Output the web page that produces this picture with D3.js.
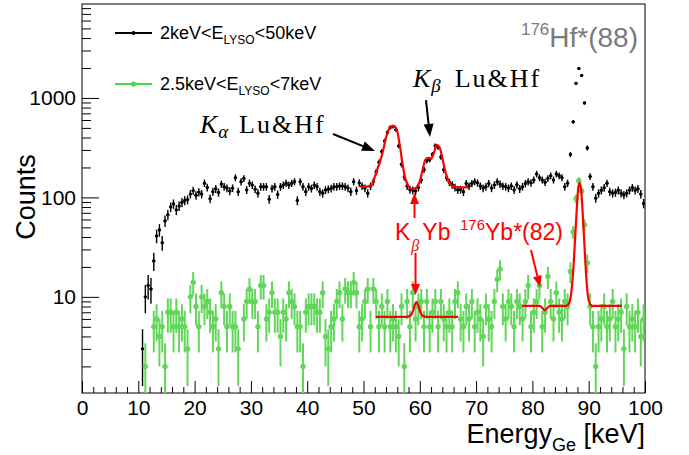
<!DOCTYPE html>
<html>
<head>
<meta charset="utf-8">
<script src="https://cdn.jsdelivr.net/npm/d3@7"></script>
<style>
  html, body { margin: 0; padding: 0; background: #ffffff; }
  svg { display: block; }
</style>
</head>
<body>
<svg id="chart" width="689" height="455"></svg>
<script>
// Ge energy spectrum in 0.5 keV bins, two LYSO energy cuts
const binWidth = 0.5;

// 2 keV < E_LYSO < 50 keV, first bin centre at 10.75 keV
const wideCutStart = 10.75;
const wideCutCounts = [
  3, 10, 13, 12, 23, 41, 47, 35, 58, 67,
  80, 86, 75, 82, 89, 93, 95, 108, 117, 105,
  113, 108, 139, 126, 97, 114, 122, 112, 136, 128,
  124, 116, 124, 158, 114, 144, 155, 119, 139, 133,
  121, 110, 128, 128, 128, 96, 123, 128, 107, 128,
  133, 139, 133, 139, 144, 93, 144, 128, 114, 128,
  123, 133, 128, 114, 110, 119, 121, 123, 128, 128,
  130, 130, 128, 124, 114, 144, 117, 140, 130, 124,
  110, 130, 144, 180, 225, 290, 370, 450, 505, 515,
  480, 330, 215, 160, 130, 120, 118, 116, 126, 150,
  190, 235, 240, 270, 330, 320, 255, 190, 158, 142,
  134, 126, 119, 120, 114, 138, 130, 138, 144, 140,
  130, 124, 128, 138, 124, 133, 144, 136, 130, 128,
  124, 130, 119, 134, 122, 128, 138, 144, 140, 150,
  172, 158, 150, 142, 155, 165, 150, 172, 165, 158,
  128, 139, 270, 575, 1400, 1980, 1680, 890, 314, 162,
  128, 98, 110, 118, 125, 139, 114, 110, 112, 118,
  110, 106, 110, 118, 125, 118, 122, 108, 87
];

// 2.5 keV < E_LYSO < 7 keV, first bin centre at 11.25 keV (0 = empty bin)
const narrowCutStart = 11.25;
const narrowCutCounts = [
  2, 0, 0, 5, 6, 4, 5, 2, 7, 7,
  5, 7, 5, 6, 5, 3, 10, 14, 8, 5,
  10, 8, 9, 7, 5, 6, 3, 11, 8, 5,
  8, 5, 5, 3, 0, 6, 9, 12, 9, 9,
  5, 13, 13, 6, 7, 11, 7, 7, 4, 7,
  6, 11, 9, 8, 5, 5, 2, 7, 8, 8,
  8, 7, 7, 11, 4, 3, 5, 6, 9, 11,
  6, 12, 11, 11, 14, 11, 5, 6, 9, 12,
  5, 12, 9, 5, 8, 5, 9, 5, 6, 5,
  4, 8, 2, 9, 5, 11, 6, 8, 9, 5,
  9, 5, 7, 9, 5, 9, 6, 5, 7, 5,
  9, 11, 6, 5, 8, 6, 9, 5, 7, 6,
  4, 8, 6, 5, 9, 15, 19, 8, 6, 9,
  8, 5, 9, 8, 6, 9, 13, 5, 7, 9,
  13, 5, 7, 16, 9, 6, 11, 7, 6, 9,
  8, 18, 45, 97, 147, 116, 53, 22, 8, 5,
  2, 5, 6, 8, 5, 6, 9, 5, 6, 7,
  3, 8, 5, 6, 5, 7, 4, 6
];

// Fitted curve over the Lu & Hf K lines (wide cut)
const fitKLinesE = [49.4, 50.5, 51.5, 52.0, 52.5, 53.0, 53.5, 54.0, 54.5, 55.0, 55.5, 56.0, 56.5, 57.0,
  57.5, 58.0, 58.5, 59.0, 59.5, 60.0, 60.5, 61.0, 61.5, 62.0, 62.5, 63.0, 63.5, 64.0, 64.5, 65.0,
  65.5, 66.0, 67.0, 68.6];
const fitKLinesY = [128, 128, 134, 160, 195, 235, 300, 400, 485, 518, 518, 460, 320, 205,
  150, 130, 122, 122, 128, 145, 190, 240, 250, 245, 280, 335, 320, 250, 185, 150,
  133, 128, 126, 126];

// Fitted curve over the Yb K-beta region (narrow cut)
const fitYbKbE = [52.2, 57.6, 58.2, 58.7, 59.1, 59.4, 59.7, 60.1, 60.6, 61.2, 66.8];
const fitYbKbY = [6.3, 6.3, 6.4, 7.0, 8.3, 8.9, 8.3, 7.0, 6.4, 6.3, 6.3];

// Fitted curve over the 176Yb*(82) and 176Hf*(88) region (narrow cut)
const fitHfE = [78.2, 81.3, 81.8, 82.2, 82.6, 83.1, 86.0, 86.5, 86.9, 87.3, 87.6, 87.9, 88.15, 88.4,
  88.65, 88.9, 89.2, 89.5, 89.8, 90.1, 90.6, 95.9];
const fitHfY = [8.1, 8.1, 7.7, 7.3, 7.7, 8.1, 8.1, 8.6, 11, 20, 40, 80, 125, 140,
  120, 75, 37, 18, 11, 8.8, 8.1, 8.1];

// Axis ticks
const xMajorTicks = [0, 10, 20, 30, 40, 50, 60, 70, 80, 90, 100];
const xMinorTicks = [2, 4, 6, 8, 12, 14, 16, 18, 22, 24, 26, 28, 32, 34, 36, 38, 42, 44, 46, 48,
  52, 54, 56, 58, 62, 64, 66, 68, 72, 74, 76, 78, 82, 84, 86, 88, 92, 94, 96, 98];
const yMajorTicks = [10, 100, 1000];
const yMinorTicks = [2, 3, 4, 5, 6, 7, 8, 9, 20, 30, 40, 50, 60, 70, 80, 90,
  200, 300, 400, 500, 600, 700, 800, 900, 2000, 3000, 4000, 5000, 6000, 7000, 8000];

const svg = d3.select("#chart");
const W = 689, H = 455;
const plot = { left: 82, right: 645, top: 4, bottom: 393 };

const x = d3.scaleLinear().domain([0, 100]).range([plot.left, plot.right]);
const y = d3.scaleLog().domain([1.08, 8800]).range([plot.bottom, plot.top]);

const BLACK = "#000000";
const GREEN = "#62d65a";
const RED = "#ff0000";
const SANS = "'Liberation Sans', Arial, Helvetica, sans-serif";
const SERIF = "'Liberation Serif', 'Times New Roman', serif";

svg.append("rect").attr("width", W).attr("height", H).attr("fill", "#ffffff");

svg.append("defs").append("clipPath").attr("id", "plotClip")
  .append("rect")
  .attr("x", plot.left).attr("y", plot.top)
  .attr("width", plot.right - plot.left).attr("height", plot.bottom - plot.top);

// ---- axes ----
function styleAxis(g) {
  g.select(".domain").remove();
  g.selectAll("line").attr("stroke", "#000").attr("stroke-width", 1);
  g.selectAll("text").attr("font-family", SANS).attr("font-size", 21).attr("fill", "#000");
}

svg.append("g").attr("transform", `translate(0,${plot.bottom})`)
  .call(d3.axisBottom(x).tickValues(xMajorTicks).tickSize(-12).tickPadding(7).tickFormat(d3.format("d")))
  .call(styleAxis);
svg.append("g").attr("transform", `translate(0,${plot.bottom})`)
  .call(d3.axisBottom(x).tickValues(xMinorTicks).tickSize(-6).tickFormat(""))
  .call(styleAxis);
svg.append("g").attr("transform", `translate(${plot.left},0)`)
  .call(d3.axisLeft(y).tickValues(yMajorTicks).tickSize(-17).tickPadding(6).tickFormat(d3.format("d")))
  .call(styleAxis);
svg.append("g").attr("transform", `translate(${plot.left},0)`)
  .call(d3.axisLeft(y).tickValues(yMinorTicks).tickSize(-9).tickFormat(""))
  .call(styleAxis);

// frame
svg.append("rect")
  .attr("x", plot.left).attr("y", plot.top)
  .attr("width", plot.right - plot.left).attr("height", plot.bottom - plot.top)
  .attr("fill", "none").attr("stroke", "#000").attr("stroke-width", 1);

// axis titles
svg.append("text")
  .attr("transform", `translate(35,197) rotate(-90)`)
  .attr("text-anchor", "middle")
  .attr("font-family", SANS).attr("font-size", 27)
  .text("Counts");

const xTitle = svg.append("text")
  .attr("x", plot.right).attr("y", 443)
  .attr("text-anchor", "end")
  .attr("font-family", SANS).attr("font-size", 27);
xTitle.append("tspan").text("Energy");
xTitle.append("tspan").attr("font-size", 18).attr("dy", 8).text("Ge");
xTitle.append("tspan").attr("dy", -8).text(" [keV]");

// ---- histogram points ----
function toBins(start, counts) {
  return counts.map((c, i) => ({ e: start + i * binWidth, n: c })).filter(d => d.n > 0);
}
const wideBins = toBins(wideCutStart, wideCutCounts);
const narrowBins = toBins(narrowCutStart, narrowCutCounts);

const dataLayer = svg.append("g").attr("clip-path", "url(#plotClip)");
const yMin = y.domain()[0] * 0.5;

function drawHist(bins, color, r, sw) {
  const g = dataLayer.append("g");
  g.selectAll("line.ey").data(bins).join("line")
    .attr("x1", d => x(d.e)).attr("x2", d => x(d.e))
    .attr("y1", d => y(Math.max(d.n - Math.sqrt(d.n), yMin)))
    .attr("y2", d => y(d.n + Math.sqrt(d.n)))
    .attr("stroke", color).attr("stroke-width", sw);
  g.selectAll("line.ex").data(bins).join("line")
    .attr("x1", d => x(d.e - binWidth / 2)).attr("x2", d => x(d.e + binWidth / 2))
    .attr("y1", d => y(d.n)).attr("y2", d => y(d.n))
    .attr("stroke", color).attr("stroke-width", sw);
  g.selectAll("circle").data(bins).join("circle")
    .attr("cx", d => x(d.e)).attr("cy", d => y(d.n)).attr("r", r)
    .attr("fill", color);
}
drawHist(wideBins, BLACK, 1.7, 1.4);
drawHist(narrowBins, GREEN, 2.7, 2);

// ---- fit curves ----
const fitLine = d3.line().x(d => x(d[0])).y(d => y(d[1])).curve(d3.curveMonotoneX);
function drawFit(es, vs) {
  dataLayer.append("path")
    .datum(es.map((e, i) => [e, vs[i]]))
    .attr("d", fitLine)
    .attr("fill", "none").attr("stroke", RED).attr("stroke-width", 2.2)
    .attr("stroke-linejoin", "round");
}
drawFit(fitKLinesE, fitKLinesY);
drawFit(fitYbKbE, fitYbKbY);
drawFit(fitHfE, fitHfY);

// ---- legend ----
const legendItems = [
  { color: BLACK, r: 2, y: 33, lo: "2keV", hi: "50keV" },
  { color: "#44dd44", r: 2.6, y: 84, lo: "2.5keV", hi: "7keV" }
];
legendItems.forEach(item => {
  svg.append("line").attr("x1", 115).attr("x2", 152).attr("y1", item.y).attr("y2", item.y)
    .attr("stroke", item.color).attr("stroke-width", 2);
  svg.append("circle").attr("cx", 133.5).attr("cy", item.y).attr("r", item.r).attr("fill", item.color);
  const t = svg.append("text").attr("x", 160).attr("y", item.y + 6)
    .attr("font-family", SANS).attr("font-size", 18);
  t.append("tspan").text(`${item.lo}<E`);
  t.append("tspan").attr("font-size", 12).attr("dy", 5).text("LYSO");
  t.append("tspan").attr("dy", -5).text(`<${item.hi}`);
});

// ---- annotations ----
function arrow(e1, v1, e2, v2, color, width, headLen, headHalf) {
  const x1 = x(e1), y1 = y(v1), x2 = x(e2), y2 = y(v2);
  const a = Math.atan2(y2 - y1, x2 - x1);
  const bx = x2 - headLen * Math.cos(a), by = y2 - headLen * Math.sin(a);
  svg.append("line").attr("x1", x1).attr("y1", y1).attr("x2", bx).attr("y2", by)
    .attr("stroke", color).attr("stroke-width", width);
  const px = -Math.sin(a) * headHalf, py = Math.cos(a) * headHalf;
  svg.append("path")
    .attr("d", `M${x2},${y2}L${bx + px},${by + py}L${bx - px},${by - py}Z`)
    .attr("fill", color);
}

// serif "K_greek Lu&Hf" label: symbol starts at e0, "Lu&Hf" starts at e1
function kLabel(e0, e1, v, greek) {
  const t = svg.append("text").attr("y", y(v))
    .attr("font-family", SERIF).attr("font-size", 26);
  t.append("tspan").attr("x", x(e0)).attr("font-style", "italic").text("K");
  t.append("tspan").attr("font-style", "italic").attr("font-size", 19).attr("dy", 5).attr("dx", 1).text(greek);
  t.append("tspan").attr("x", x(e1)).attr("dy", -5).attr("letter-spacing", 2).text("Lu&Hf");
}

// K-alpha Lu&Hf
kLabel(20.96, 27.9, 444, "α");
arrow(44.58, 434, 52.04, 293, BLACK, 2, 13, 5);

// K-beta Lu&Hf
kLabel(58.79, 66.2, 1288, "β");
arrow(61.1, 953, 61.81, 405, BLACK, 2, 13, 5);

// 176Hf*(88)
const hf = svg.append("text").attr("x", x(98.76)).attr("y", y(3274))
  .attr("text-anchor", "end").attr("font-family", SANS).attr("font-size", 28).attr("fill", "#7a7a7a");
hf.append("tspan").attr("font-size", 17).attr("dy", -12).text("176");
hf.append("tspan").attr("dy", 12).text("Hf*(88)");

// K-beta Yb
const kbyb = svg.append("text").attr("x", x(55.6)).attr("y", y(37.3))
  .attr("font-family", SANS).attr("font-size", 23).attr("fill", RED);
kbyb.append("tspan").text("K");
kbyb.append("tspan").attr("font-family", SERIF).attr("font-style", "italic").attr("font-size", 16)
  .attr("dy", 11).attr("dx", 1).text("β");
kbyb.append("tspan").attr("dy", -11).attr("dx", 3).text("Yb");
arrow(59.06, 62.1, 59.06, 110.7, RED, 2, 11, 4.5);
arrow(59.24, 27.6, 59.24, 10.44, RED, 2, 11, 4.5);

// 176Yb*(82)
const yb = svg.append("text").attr("x", x(67.14)).attr("y", y(37.3))
  .attr("font-family", SANS).attr("font-size", 23).attr("fill", RED);
yb.append("tspan").attr("font-size", 15).attr("dy", -10).text("176");
yb.append("tspan").attr("dy", 10).text("Yb*(82)");
arrow(79.75, 29.6, 81.35, 12.6, RED, 2, 11, 4.5);
</script>
</body>
</html>
